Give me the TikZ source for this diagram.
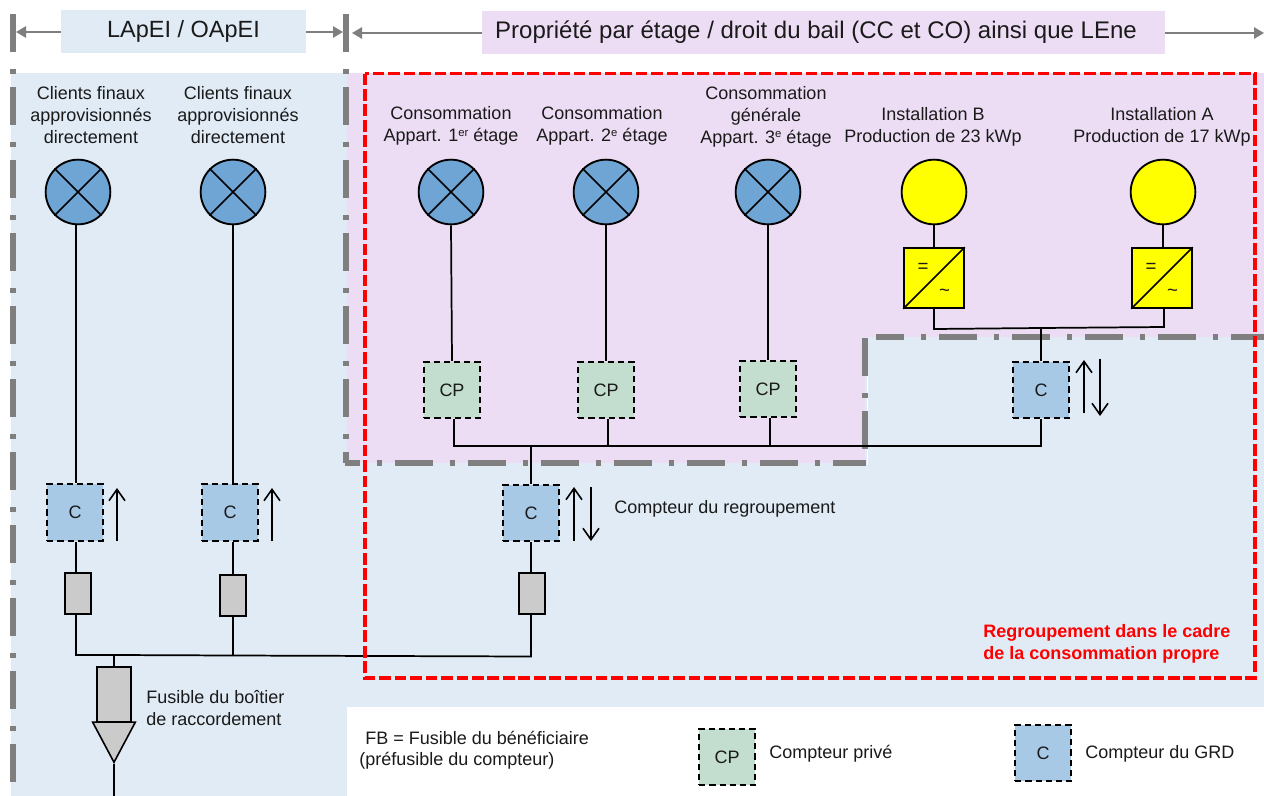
\documentclass[tikz,border=0pt]{standalone}
\usepackage{fontspec}
\setmainfont{Liberation Sans}
\usetikzlibrary{arrows.meta,shapes.geometric}
\definecolor{bgblue}{HTML}{E1EBF5}
\definecolor{bgpurple}{HTML}{ECDDF4}
\definecolor{lampblue}{HTML}{6FA5D5}
\definecolor{meterblue}{HTML}{A8C9E5}
\definecolor{metergreen}{HTML}{C3DDCE}
\definecolor{fusegray}{HTML}{CBCBCB}
\definecolor{framegray}{HTML}{7F7F7F}
\definecolor{textdark}{HTML}{1A1A1A}
\definecolor{pvyellow}{HTML}{FFFF00}
\definecolor{framered}{HTML}{FF0000}
\newcommand{\supr}[1]{\raisebox{0.55ex}{\fontsize{8.5}{8.5}\selectfont #1}}
\tikzset{
  x=0.75pt,y=-0.75pt,
  lbl/.style={inner sep=0pt,align=center,text=textdark,font=\fontsize{13.5}{16.5}\selectfont},
  lblL/.style={lbl,anchor=west,align=left},
  head/.style={inner sep=0pt,text=textdark,font=\fontsize{17.6}{21}\selectfont,minimum height=32.25pt},
  lamp/.style={circle,draw=black,line width=1.4pt,fill=lampblue,minimum size=48.5pt,inner sep=0pt},
  sun/.style={lamp,fill=pvyellow},
  meterC/.style={rectangle,draw=black,dash pattern=on 4.6pt off 3pt,line width=1.3pt,fill=meterblue,minimum width=41.5pt,minimum height=42.5pt,inner sep=0pt,text=textdark,font=\fontsize{13.5}{16}\selectfont},
  meterP/.style={meterC,fill=metergreen},
  fuse/.style={rectangle,draw=black,line width=1.1pt,fill=fusegray,minimum width=19.5pt,minimum height=30.5pt,inner sep=0pt},
  bigfuse/.style={fuse,line width=1.6pt,minimum width=25pt,minimum height=41pt},
  inverter/.style={rectangle,draw=black,line width=1.3pt,fill=pvyellow,minimum size=45pt,inner sep=0pt},
  wire/.style={draw=black,line width=1.3pt},
  flow/.style={draw=black,line width=1.2pt,-{Straight Barb[length=8.5pt,width=12pt,line width=1.2pt]}},
  hdrarrow/.style={draw=framegray,line width=1.3pt,-{Triangle[length=7.5pt,width=8.5pt]}},
  frame/.style={draw=framegray,line width=3.9pt,dash pattern=on 28.5pt off 12.75pt on 3.75pt off 9.75pt},
  redframe/.style={draw=framered,line width=2.9pt,dash pattern=on 8.8pt off 2.8pt},
  redtxt/.style={lblL,text=framered,font=\fontsize{13.5}{16.5}\selectfont\bfseries},
  invsym/.style={inner sep=0pt,font=\fontsize{14}{14}\selectfont,text=textdark},
}
\begin{document}
\begin{tikzpicture}
\useasboundingbox (0,0) rectangle (1264,796);
\clip (0,0) rectangle (1264,796);
% backgrounds
\fill[bgblue] (11,73) rectangle (347,796);
\fill[bgblue] (347,337) rectangle (1264,707);
\fill[bgpurple] (347,73) rectangle (1264,337);
\fill[bgpurple] (347,337) rectangle (865,463);
% headers
\node[head,fill=bgblue,minimum width=183.75pt] (h1) at (183.5,31.5) {\raisebox{-2.2pt}{LApEI / OApEI}};
\node[head,fill=bgpurple,minimum width=512.25pt] (h2) at (823.5,32.5) {\raisebox{-2.2pt}{\fontsize{18}{21}\selectfont Propriété par étage / droit du bail (CC et CO) ainsi que LEne}\hspace*{11.25pt}};
\coordinate (h1l) at (16,32); \coordinate (h1r) at (343,32);
\coordinate (h2l) at (352,33); \coordinate (h2r) at (1264,33);
\draw[hdrarrow] (h1.west |- h1l) -- (h1l);
\draw[hdrarrow] (h1.east |- h1r) -- (h1r);
\draw[hdrarrow] (h2.west |- h2l) -- (h2l);
\draw[hdrarrow] (h2.east |- h2r) -- (h2r);
% grey dash-dot frames
\draw[frame] (13,14) -- (13,796);
\draw[frame] (346,14) -- (346,463);
\draw[draw=white,line width=1pt] (867.5,372) -- (867.5,465);
\draw[frame,dash phase=17.25pt] (344.5,463) -- (866,463);
\draw[frame] (865,338) -- (865,463);
\draw[frame,dash phase=7.5pt] (876,337) -- (1264,337);
% lamps
\foreach \n/\x in {L1/78,L2/233,L3/451,L4/606,L5/768}{
  \node[lamp] (\n) at (\x,192) {};
  \draw[line width=1.2pt] (\n.north west) -- (\n.south east) (\n.north east) -- (\n.south west);
}
\node[sun] (S1) at (934,192) {};
\node[sun] (S2) at (1163,192) {};
% inverters
\foreach \n/\x in {I1/934,I2/1162}{
  \node[inverter] (\n) at (\x,278) {};
  \draw[line width=1.2pt] (\n.south west) -- (\n.north east);
  \node[invsym] (\n e) at (\x-11,268) {=};
  \node[invsym] (\n t) at (\x+10.5,293) {\char"7E};
}
% meters
\node[meterC] (C1) at (75,512.5) {C};
\node[meterC] (C2) at (230,512.5) {C};
\node[meterC] (C3) at (531,513) {C};
\node[meterC] (C4) at (1041,390) {C};
\node[meterP] (P1) at (452,390) {CP};
\node[meterP] (P2) at (606,390) {CP};
\node[meterP] (P3) at (768,389) {CP};
% fuses
\node[fuse] (F1) at (78,593.5) {};
\node[fuse] (F2) at (233,595.5) {};
\node[fuse] (F3) at (532,593.5) {};
\node[bigfuse] (FB) at (114,694.5) {};
\node[isosceles triangle,isosceles triangle apex angle=56,shape border rotate=-90,draw=black,line width=1.2pt,fill=fusegray,minimum width=32pt,minimum height=30pt,inner sep=0pt,anchor=apex] (T) at (114,764) {};
\coordinate (gnd) at (114,796);
% wires
\coordinate (mainL) at (76,655);
\coordinate (mainF) at (114,655);
\coordinate (mainM) at (233,655.5);
\coordinate (mainR) at (531,656.5);
\draw[wire] (L1.south -| mainL) -- (C1.north -| mainL);
\draw[wire] (L2) -- (C2.north -| L2);
\draw[wire] (L3.south) -- (P1.north);
\draw[wire] (L4.south) -- (P2.north);
\draw[wire] (L5.south) -- (P3.north);
\draw[wire] (C1.south -| mainL) -- (F1.north -| mainL);
\draw[wire] (C2.south -| F2) -- (F2.north);
\draw[wire] (C3.south) -- (F3.north -| C3);
\draw[wire] (S1) -- (I1.north -| S1);
\draw[wire] (S2) -- (I2.north -| S2);
\coordinate (pvL) at (934,329);
\coordinate (pvM) at (1041,328);
\coordinate (pvR) at (1164,327);
\draw[wire] (I1.south) -- (pvL) -- (pvM) -- (pvR) -- (pvR |- I2.south);
\draw[wire] (pvM) -- (C4.north);
\coordinate (busL) at (454,446);
\coordinate (busT) at (531,446);
\coordinate (busA) at (608,446);
\coordinate (busB) at (770,446);
\coordinate (busR) at (1041,446);
\draw[wire] (P1.south -| busL) -- (busL) -- (busA) -- (busB) -- (busR) -- (C4.south);
\draw[wire] (P2.south -| busA) -- (busA);
\draw[wire] (P3.south -| busB) -- (busB);
\draw[wire] (busT) -- (C3.north);
\draw[wire] (F1.south -| mainL) -- (mainL) -- (mainF) -- (mainM) -- (mainR) -- (F3.south -| mainR);
\draw[wire] (F2.south) -- (mainM);
\draw[wire] (mainF) -- (FB.north);
\draw[wire] (T.apex) -- (gnd);
% flow arrows
\foreach \n/\x/\a/\b in {u1/117/541/488,u2/272/541/488,u3/574/541/487,u4/1084/413/360}{
  \coordinate (\n a) at (\x,\a); \coordinate (\n b) at (\x,\b);
  \draw[flow] (\n a) -- (\n b);
}
\foreach \n/\x/\a/\b in {d3/591/487/541,d4/1100/359/416}{
  \coordinate (\n a) at (\x,\a); \coordinate (\n b) at (\x,\b);
  \draw[flow] (\n a) -- (\n b);
}
% red frame
\draw[redframe] (365,73.5) rectangle (1255,678);
% labels
\node[lbl] (t1) at (91,115) {Clients finaux\\approvisionnés\\directement};
\node[lbl] (t2) at (238,115) {Clients finaux\\approvisionnés\\directement};
\node[lbl] (t3) at (451,126) {Consommation\\Appart. 1\supr{er} étage};
\node[lbl] (t4) at (602,126) {Consommation\\Appart. 2\supr{e} étage};
\node[lbl] (t5) at (766,116.5) {Consommation\\générale\\Appart. 3\supr{e} étage};
\node[lbl] (t6) at (933,126.5) {Installation B\\Production de 23 kWp};
\node[lbl] (t7) at (1162,126.5) {Installation A\\Production de 17 kWp};
\node[lblL] (t8) at (614,508.5) {Compteur du regroupement};
\node[lblL] (t9) at (146,708) {Fusible du boîtier\\de raccordement};
\node[redtxt] (t10) at (983,643.5) {Regroupement dans le cadre\\de la consommation propre};
% legend
\fill[white] (347,707) rectangle (1264,796);
\node[lblL] (l1) at (365,737.5) {FB = Fusible du bénéficiaire};
\node[lblL] (l2) at (359,760.5) {(préfusible du compteur)};
\node[meterP] (lg1) at (727,757) {CP};
\node[lblL] (l3) at (769,754) {Compteur privé};
\node[meterC] (lg2) at (1043,753) {C};
\node[lblL] (l4) at (1085,754) {Compteur du GRD};
\end{tikzpicture}
\end{document}
